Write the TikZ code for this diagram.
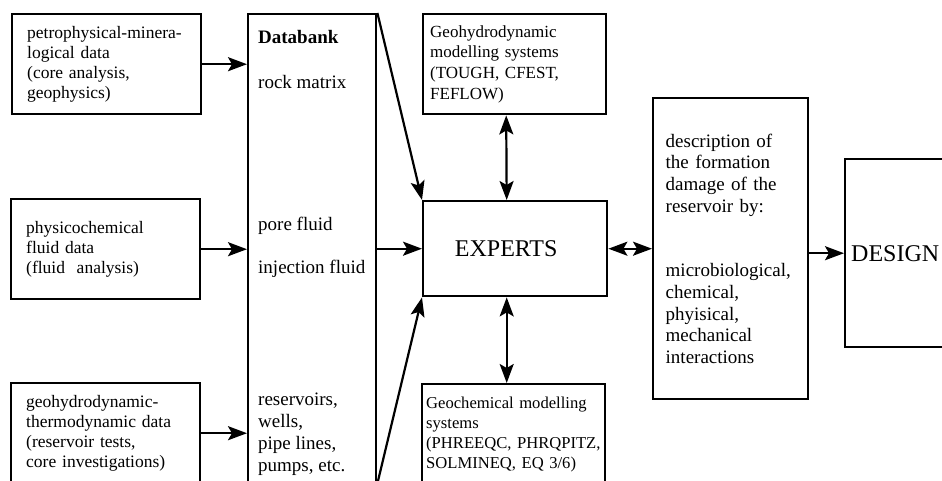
\documentclass[tikz,border=0pt]{standalone}
\usepackage{fontspec}
\setmainfont{Liberation Serif}
\usetikzlibrary{arrows.meta}
\tikzset{
  box/.style = {draw, line width=2.4pt, anchor=north west, align=left,
    inner ysep=0pt},
  src_box/.style = {box, font=\fontsize{17.5}{20}\selectfont,
    inner xsep=15pt, text width=159pt, minimum height=100pt},% data sources
  mod_box/.style = {box, font=\fontsize{17}{20.7}\selectfont,
    minimum height=100pt},% modelling systems
  big_box/.style = {box, font=\fontsize{24}{28}\selectfont},
  bank_txt/.style = {anchor=base west, inner sep=0pt, align=left,
    font=\fontsize{19}{22}\selectfont},
  flow/.style = {line width=2.2pt,
    -{Stealth[length=19pt, width=14pt, inset=4pt]}},
  flow_both/.style = {line width=2.2pt,
    {Stealth[length=19pt, width=14pt, inset=4pt]}-{Stealth[length=19pt, width=14pt, inset=4pt]}}
}
\begin{document}
\begin{tikzpicture}[x=1pt, y=-1pt]
\useasboundingbox (0,0) rectangle (942,480);
\clip (0,0) rectangle (942,480);
% data sources
\node [src_box] (src_petro) at (11,13)
  {petrophysical-minera-\\logical data\\(core analysis,\\geophysics)};
\node [src_box] (src_fluid) at (10,198)
  {physicochemical\\fluid data\\(fluid\ \ analysis)};
\node [src_box] (src_thermo) at (10,382)
  {geohydrodynamic-\\thermodynamic data\\(reservoir tests,\\core investigations)};
% databank
\node [box, minimum width=128pt, minimum height=468pt] (bank) at (247,13) {};
\node [bank_txt] (bank_title) at (258,43) {\bfseries Databank};
\node [bank_txt] (bank_rock) at (258,88) {rock matrix};
\node [bank_txt] (bank_pore) at (258,230) {pore fluid};
\node [bank_txt] (bank_inject) at (258,273) {injection fluid};
\node [bank_txt] (bank_res) at (258,471) {reservoirs,\\wells,\\pipe lines,\\pumps, etc.};
% experts and modelling systems
\node [big_box, align=center, minimum width=184pt, minimum height=95pt]
  (experts) at (422,200) {EXPERTS\hspace*{18pt}};
\node [mod_box, inner xsep=7pt, text width=169pt] (geo_mod) at (422,13)
  {Geohydrodynamic\\modelling systems\\(TOUGH, CFEST,\\FEFLOW)};
\node [mod_box, inner xsep=4pt, text width=175pt,
  font=\fontsize{16.6}{20}\selectfont] (geo_chem) at (421,383)
  {Geochemical modelling\\systems\\\mbox{(PHREEQC, PHRQPITZ,}\\SOLMINEQ, EQ 3/6)};
% formation damage and design
\node [box, font=\fontsize{19}{21.7}\selectfont, inner xsep=12.5pt,
  text width=130pt, minimum height=301pt] (damage) at (652,97)
  {description of\\the formation\\damage of the\\reservoir by:\\[43pt]
   microbiological,\\chemical,\\phyisical,\\mechanical\\interactions};
\node [big_box, inner xsep=6pt, text width=150pt, minimum height=188pt]
  (design) at (844,158) {DESIGN};

\draw [flow] (src_petro.east) -- (src_petro.east -| bank.west);
\draw [flow] (src_fluid.east) -- (src_fluid.east -| bank.west);
\draw [flow] (src_thermo.east) -- (src_thermo.east -| bank.west);
\draw [flow] (bank.north east) -- (experts.north west);
\draw [flow] (bank.east |- experts.west) -- (experts.west);
\draw [flow] (bank.south east) -- (experts.south west);
\draw [flow_both] ([xshift=-8.5pt]experts.north) -- ([xshift=-8.5pt]geo_mod.south);
\draw [flow_both] ([xshift=-8.5pt]experts.south)
  -- ([xshift=-8.5pt]experts.south |- geo_chem.north);
\draw [flow_both] (experts.east) -- (experts.east -| damage.west);
\draw [flow] (damage.east |- design.west) -- (design.west);
\end{tikzpicture}
\end{document}
